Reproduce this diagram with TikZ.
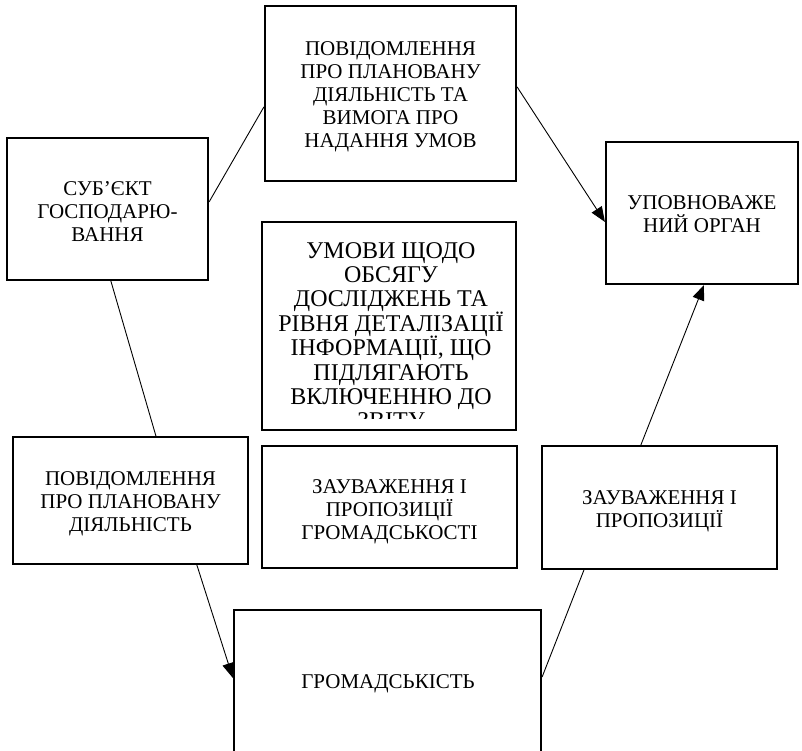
\documentclass[tikz,border=0pt]{standalone}
\usepackage{fontspec}
\setmainfont{Liberation Serif}
\usetikzlibrary{arrows.meta,calc}
\begin{document}
\begin{tikzpicture}[x=1pt,y=-1pt,
  box/.style={draw, line width=2.2pt, inner sep=0pt},
  txt/.style={inner sep=0pt, align=center, font=\fontsize{21}{23}\selectfont},
  link/.style={line width=0.9pt},
  arr/.style={link, -{Triangle[length=15pt,width=12pt]}}]
\useasboundingbox (0,0) rectangle (802,750);
\clip (0,0) rectangle (802,750);
% boxes
\node[box, minimum width=251pt, minimum height=175pt] (top) at (390.5,93.5) {};
\node[txt] (topT) at ([yshift=-3pt]top.center)
  {ПОВІДОМЛЕННЯ\\ПРО ПЛАНОВАНУ\\ДІЯЛЬНІСТЬ ТА\\ВИМОГА ПРО\\НАДАННЯ УМОВ};
\node[box, minimum width=201pt, minimum height=142pt] (subj) at (107.5,209) {};
\node[txt] (subjT) at ([yshift=-3pt]subj.center) {СУБ’ЄКТ\\ГОСПОДАРЮ-\\ВАННЯ};
\node[box, minimum width=192pt, minimum height=142pt] (organ) at (702,213) {};
\node[txt] (organT) at ([yshift=-1pt]organ.center) {УПОВНОВАЖЕ\\НИЙ ОРГАН};
\node[box, minimum width=254pt, minimum height=208pt] (cond) at (389,326) {};
\begin{scope}
  \clip (264,224) rectangle (514,418);
  \node[anchor=base, inner sep=0pt] (condT) at (391,258)
    {\vtop{\hsize=250pt\parindent=0pt\centering\fontsize{24}{24.4}\selectfont\lineskiplimit=-100pt
     УМОВИ ЩОДО\\ОБСЯГУ\\ДОСЛІДЖЕНЬ ТА\\РІВНЯ ДЕТАЛІЗАЦІЇ\\ІНФОРМАЦІЇ, ЩО\\ПІДЛЯГАЮТЬ\\ВКЛЮЧЕННЮ ДО\\ЗВІТУ\par}};
\end{scope}
\node[box, minimum width=255pt, minimum height=122pt] (remC) at (389.5,507) {};
\node[txt] (remCT) at ([yshift=-5pt]remC.center) {ЗАУВАЖЕННЯ І\\ПРОПОЗИЦІЇ\\ГРОМАДСЬКОСТІ};
\node[box, minimum width=235pt, minimum height=127pt] (notice) at (130.5,500.5) {};
\node[txt] (noticeT) at ([yshift=-3pt]notice.center) {ПОВІДОМЛЕННЯ\\ПРО ПЛАНОВАНУ\\ДІЯЛЬНІСТЬ};
\node[box, minimum width=235pt, minimum height=123pt] (remR) at (659.5,507.5) {};
\node[txt] (remRT) at ([yshift=-4pt]remR.center) {ЗАУВАЖЕННЯ І\\ПРОПОЗИЦІЇ};
\node[box, minimum width=307pt, minimum height=190pt, anchor=north] (public) at (387.5,609) {};
\node[txt, anchor=base] (publicT) at (388,688) {ГРОМАДСЬКІСТЬ};
% connectors
\draw[link] ([yshift=-65pt]subj.north east) -- ([yshift=-102pt]top.north west);
\draw[arr] ([yshift=-82pt]top.north east) -- ([yshift=-81pt]organ.north west);
\draw[link] ([xshift=105pt]subj.south west) -- ([xshift=144pt]notice.north west);
\draw[arr] ([xshift=185pt]notice.south west) -- ([yshift=-69pt]public.north west);
\draw[link] ([yshift=-68pt]public.north east) -- ([xshift=43pt]remR.south west);
\draw[arr] ([xshift=100pt]remR.north west) -- ([xshift=99pt]organ.south west);
\end{tikzpicture}
\end{document}
